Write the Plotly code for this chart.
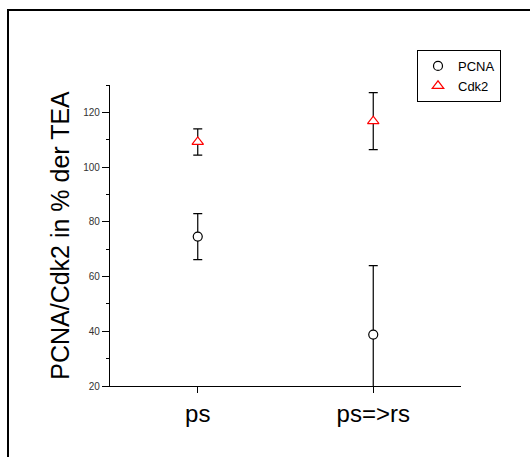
import plotly.graph_objects as go

categories = ["ps", "ps=>rs"]
pcna_values = [74.6, 38.8]
pcna_errors = [8.4, 25.2]
cdk2_values = [109.2, 116.8]
cdk2_errors = [4.8, 10.4]
y_tick_values = [20, 40, 60, 80, 100, 120]

x_pos = list(range(len(categories)))

fig = go.Figure()
fig.add_trace(go.Scatter(
    x=x_pos, y=pcna_values, mode="markers", name="PCNA",
    marker=dict(symbol="circle", size=9, color="white", line=dict(color="black", width=1.2)),
    error_y=dict(type="data", array=pcna_errors, visible=True, color="black", thickness=1.2, width=4.5),
))
fig.add_trace(go.Scatter(
    x=x_pos, y=cdk2_values, mode="markers", name="Cdk2",
    marker=dict(symbol="triangle-up", size=10, color="white", line=dict(color="red", width=1.2)),
    error_y=dict(type="data", array=cdk2_errors, visible=True, color="black", thickness=1.2, width=4.5),
))

W, H = 530, 457
ml, mr, mt, mb = 110, 69, 85, 71
pw, ph = W - ml - mr, H - mt - mb

def px2paper_x(px):
    return (px - ml) / pw

def px2paper_y(py):
    return (H - mb - py) / ph

fig.add_shape(type="rect", xref="paper", yref="paper",
              x0=px2paper_x(8), x1=px2paper_x(540), y0=px2paper_y(470), y1=px2paper_y(10),
              line=dict(color="black", width=2), fillcolor="rgba(0,0,0,0)", layer="above")

fig.update_layout(
    width=W, height=H,
    margin=dict(l=ml, r=mr, t=mt, b=mb),
    paper_bgcolor="white", plot_bgcolor="white",
    font=dict(family="Liberation Sans, Arial, sans-serif", color="black"),
    showlegend=True,
    legend=dict(x=px2paper_x(417), y=px2paper_y(50), xanchor="left", yanchor="top",
                bordercolor="black", borderwidth=1, bgcolor="white",
                font=dict(size=13), tracegroupgap=0),
    xaxis=dict(range=[-0.5, 1.5], tickvals=x_pos, ticktext=categories,
               showgrid=False, zeroline=False, showline=True, linecolor="black", linewidth=1.2,
               ticks="outside", ticklen=6, tickcolor="black", tickfont=dict(size=24)),
    yaxis=dict(range=[20, 130], tickvals=y_tick_values, showgrid=False, zeroline=False,
               showline=True, linecolor="black", linewidth=1.2,
               ticks="outside", ticklen=7, tickcolor="black", tickfont=dict(size=10, color="#333"),
               minor=dict(tickvals=[30, 50, 70, 90, 110, 130], ticks="outside", ticklen=3, tickcolor="black"),
               title=dict(text="PCNA/Cdk2 in % der TEA", font=dict(size=25), standoff=6)),
)

fig.write_html("out.html")
